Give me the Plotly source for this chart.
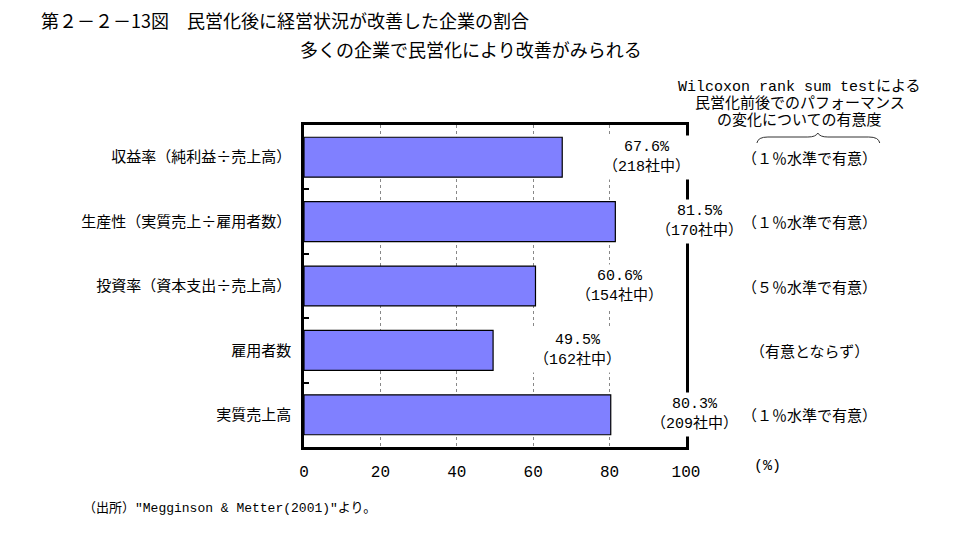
import plotly.graph_objects as go

categories = ["収益率（純利益÷売上高）", "生産性（実質売上÷雇用者数）", "投資率（資本支出÷売上高）", "雇用者数", "実質売上高"]
values = [67.6, 81.5, 60.6, 49.5, 80.3]
counts = ["（218社中）", "（170社中）", "（154社中）", "（162社中）", "（209社中）"]
significance = ["（１％水準で有意）", "（１％水準で有意）", "（５％水準で有意）", "（有意とならず）", "（１％水準で有意）"]
x_ticks = [0, 20, 40, 60, 80, 100]
x_range = [0, 100]

FONT = "Liberation Mono, Noto Sans CJK JP"
JFONT = "Noto Sans CJK JP"
W, H = 958, 542
L, R, T, B = 303.5, 686, 125, 447  # plot area in px


def px(xp):
    return (xp - L) / (R - L)


def py(yp):
    return (B - yp) / (B - T)


def xdata_to_paper(v):
    return (v - x_range[0]) / (x_range[1] - x_range[0])


fig = go.Figure()
fig.add_trace(go.Bar(
    y=categories, x=values, orientation="h",
    marker=dict(color="#8080FF", line=dict(color="black", width=1.2)),
    width=0.62, hoverinfo="skip",
))

ann = []
# value labels (placed to the right of each bar end)
for c, v, n in zip(categories, values, counts):
    ann.append(dict(x=xdata_to_paper(v + 22), y=c, xref="paper", yref="y",
                    text=f"{v:.1f}%<br>{n}",
                    xanchor="center", yanchor="middle",
                    showarrow=False, font=dict(family=FONT, size=15, color="black"),
                    bgcolor="white", borderpad=3, align="center"))
# significance labels
for c, s in zip(categories, significance):
    ann.append(dict(x=px(810), y=c, xref="paper", yref="y", text=s, showarrow=False,
                    xanchor="center", yanchor="middle",
                    font=dict(family=JFONT, size=15, color="black")))
# header on right
hdr = ["Wilcoxon rank sum testによる", "民営化前後でのパフォーマンス", "の変化についての有意度"]
for i, t in enumerate(hdr):
    ann.append(dict(x=px(800), y=py(87 + 17 * i), xref="paper", yref="paper", text=t,
                    xanchor="center", yanchor="middle",
                    showarrow=False, font=dict(family=FONT, size=15, color="black")))
# title, subtitle
ann.append(dict(x=px(38), y=py(20), xref="paper", yref="paper", xanchor="left", yanchor="middle",
                text="第２－２－13図　民営化後に経営状況が改善した企業の割合",
                showarrow=False, font=dict(family=JFONT, size=18, color="black")))
ann.append(dict(x=px(471), y=py(49), xref="paper", yref="paper", xanchor="center", yanchor="middle",
                text="多くの企業で民営化により改善がみられる",
                showarrow=False, font=dict(family=JFONT, size=18, color="black")))
# unit
ann.append(dict(x=px(768), y=py(467), xref="paper", yref="paper", text="(%)",
                xanchor="center", yanchor="middle",
                showarrow=False, font=dict(family=FONT, size=15, color="black")))
# source
ann.append(dict(x=px(80), y=py(508), xref="paper", yref="paper", xanchor="left", yanchor="middle",
                text="（出所）\"Megginson & Metter(2001)\"より。",
                showarrow=False, font=dict(family=FONT, size=13, color="black")))

# brace under header
pts = lambda a, b: f"{px(a)},{py(b)}"
brace = (f"M {pts(757,143)} Q {pts(758,137)} {pts(768,137)} L {pts(808,137)} "
         f"Q {pts(816,137)} {pts(818,133)} Q {pts(820,137)} {pts(828,137)} "
         f"L {pts(869,137)} Q {pts(879,137)} {pts(880,143)}")

fig.update_layout(
    width=W, height=H,
    margin=dict(l=L, r=W - R, t=T, b=H - B, pad=0),
    plot_bgcolor="white", paper_bgcolor="white",
    showlegend=False,
    font=dict(family=JFONT, size=14, color="black"),
    annotations=ann,
    shapes=[dict(type="path", path=brace, xref="paper", yref="paper",
                 line=dict(color="#333333", width=1))],
    bargap=0.38,
)
fig.update_xaxes(range=x_range, tickvals=x_ticks, ticks="", showgrid=True,
                 gridcolor="#888888", griddash="3px,3px", gridwidth=1,
                 showline=True, linecolor="black", linewidth=2.5, mirror=True,
                 zeroline=False, ticklabelstandoff=8,
                 tickfont=dict(family=FONT, size=16, color="black"), fixedrange=True)
fig.update_yaxes(categoryorder="array", categoryarray=categories, autorange="reversed",
                 ticks="inside", ticklen=5, tickwidth=1.5, tickcolor="black",
                 tickson="boundaries", showgrid=False,
                 showline=True, linecolor="black", linewidth=2.5, mirror=True,
                 ticklabelstandoff=7,
                 tickfont=dict(family=JFONT, size=15, color="black"), fixedrange=True)

fig.write_html("out.html", config={"displayModeBar": False},
               post_script="document.body.style.margin='0';")
